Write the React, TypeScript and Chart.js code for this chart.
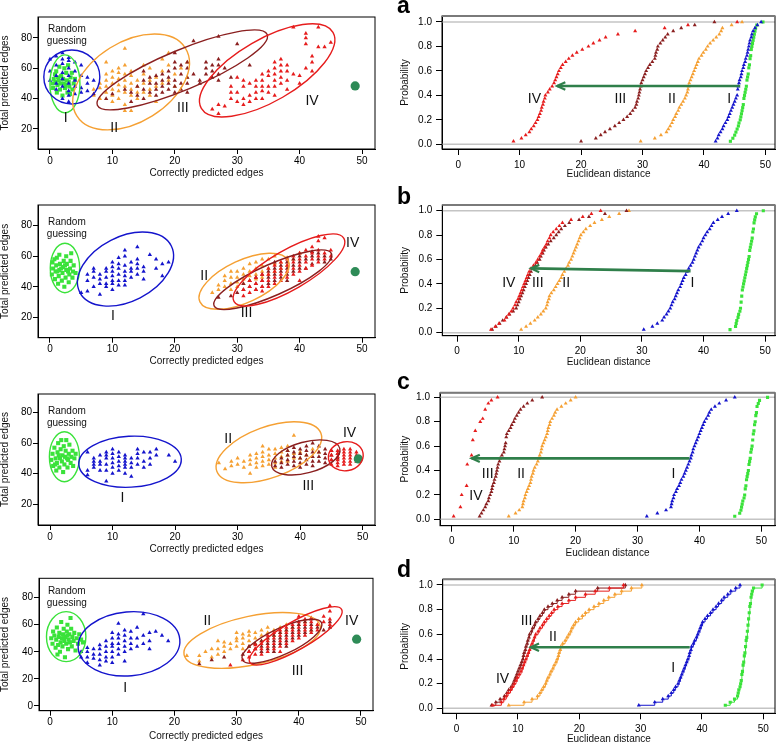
import React, { useEffect, useRef } from 'react';
import { Chart, registerables } from 'chart.js';
Chart.register(...registerables);

const FONT = '"Liberation Sans", Arial, Helvetica, sans-serif';
const W = 779;
const H = 744;

// ---------- tick values ----------
const EDGE_X_TICKS = [0, 10, 20, 30, 40, 50];
const EDGE_Y_TICKS = [20, 40, 60, 80];
const EDGE_Y_TICKS_D = [0, 20, 40, 60, 80];
const DIST_X_TICKS = [0, 10, 20, 30, 40, 50];
const PROB_TICKS = [0, 0.2, 0.4, 0.6, 0.8, 1.0];
const GROUP_NAMES = ['I', 'II', 'III', 'IV'];
const PANEL_LETTERS = ['a', 'b', 'c', 'd'];

// ---------- scatter data: [correctly predicted edges, total predicted edges] ----------
const A_RANDOM = [[0.4,50],[0.6,53],[0.5,47],[0.8,56],[1.1,44],[1.2,49],[1.4,52],[1.0,58],[1.6,46],[1.8,55],[1.5,61],[2.0,42],[2.2,50],[2.1,53],[2.4,47],[2.6,57],[2.3,60],[2.8,44],[3.0,51],[3.1,48],[3.3,54],[2.9,62],[3.6,46],[3.8,50],[3.5,57],[4.0,53],[1.7,50],[2.7,52],[0.9,51],[3.2,43],[1.3,54],[2.5,49]];
const A_I = [[0,52],[0,58],[0,66],[1,46],[1,50],[1,55],[1,62],[1,68],[2,40],[2,48],[2,53],[2,57],[2,63],[2,66],[2,70],[3,38],[3,42],[3,45],[3,50],[3,55],[3,60],[3,65],[3,67],[4,43],[4,48],[4,52],[4,58],[4,64],[5,44],[5,47],[5,55],[5,62],[6,45],[6,50],[6,54],[7,52]];
const A_II = [[7,42],[7,46],[8,40],[8,47],[8,50],[9,44],[9,48],[9,52],[9,56],[9,64],[10,38],[10,42],[10,46],[10,50],[10,54],[10,58],[11,40],[11,45],[11,49],[11,53],[11,57],[11,60],[12,32],[12,36],[12,44],[12,48],[12,52],[12,56],[12,62],[12,73],[13,32],[13,42],[13,46],[13,50],[13,55],[13,58],[14,40],[14,44],[14,48],[14,52],[15,44],[15,50],[15,56],[15,62],[16,42],[16,46],[16,52],[16,60],[17,38],[17,48],[17,54],[18,50],[18,58],[18,66],[19,52],[19,62],[19,70],[20,48],[20,56],[21,60],[22,54],[22,64]];
const A_III = [[7,43],[9,40],[10,43],[12,46],[13,38],[13,44],[14,42],[14,48],[15,40],[15,46],[15,52],[15,58],[16,44],[16,50],[16,54],[17,42],[17,46],[17,50],[17,55],[18,44],[18,48],[18,52],[18,56],[19,46],[19,50],[19,54],[19,58],[20,44],[20,48],[20,52],[20,60],[20,64],[20,70],[21,46],[21,50],[21,56],[21,62],[22,44],[22,50],[22,54],[22,60],[22,64],[23,56],[23,78],[24,50],[24,52],[25,56],[25,60],[25,64],[26,54],[26,58],[26,62],[27,52],[27,56],[27,62],[27,66],[27,81],[28,60],[29,54],[30,76],[32,62]];
const A_IV = [[26,33],[27,30],[27,36],[28,35],[29,40],[29,44],[29,48],[30,38],[30,44],[30,54],[31,36],[31,40],[31,48],[31,52],[32,38],[32,42],[32,50],[33,40],[33,44],[33,48],[33,52],[34,40],[34,45],[34,48],[34,52],[34,56],[35,44],[35,48],[35,55],[35,58],[36,42],[36,48],[36,52],[36,56],[36,60],[36,64],[37,50],[37,54],[37,58],[37,62],[37,66],[38,46],[38,52],[38,58],[38,62],[39,56],[39,87],[40,50],[40,55],[41,60],[41,76],[41,80],[41,83],[42,58],[42,64],[42,68],[43,74],[43,87],[44,74],[45,77]];
const A_TRUE = [[48.9, 48.4]];

const B_RANDOM = [[0.3,48],[0.5,52],[0.4,56],[0.8,45],[0.9,50],[1.0,54],[1.1,59],[1.3,42],[1.4,47],[1.5,51],[1.6,55],[1.5,61],[1.9,44],[2.0,49],[2.1,53],[2.2,57],[2.3,40],[2.5,46],[2.6,51],[2.7,55],[2.6,60],[3.0,43],[3.1,48],[3.2,52],[3.3,57],[3.6,46],[3.7,50],[3.8,54],[4.1,49],[1.8,52],[2.4,54],[1.2,50],[2.9,50],[0.7,58],[3.4,62]];
const B_I = [[5,36],[6,37],[6,44],[6,48],[7,40],[7,46],[7,50],[7,52],[8,35],[8,42],[8,45],[8,48],[9,40],[9,42],[9,46],[9,50],[9,52],[10,38],[10,42],[10,44],[10,47],[10,50],[10,53],[10,56],[11,41],[11,44],[11,48],[11,52],[11,55],[11,59],[12,41],[12,44],[12,47],[12,50],[12,54],[12,60],[12,64],[13,46],[13,50],[13,52],[13,56],[14,48],[14,52],[14,55],[14,58],[14,66],[15,45],[15,50],[15,53],[16,61],[17,52],[17,58],[18,47],[18,55],[19,56]];
const B_II = [[26,36],[27,38],[27,41],[28,40],[28,44],[28,47],[29,38],[29,42],[29,46],[29,50],[30,40],[30,43],[30,46],[30,50],[31,42],[31,45],[31,48],[31,52],[32,44],[32,47],[32,50],[32,55],[33,45],[33,48],[33,52],[33,56],[34,46],[34,50],[34,54],[34,58],[35,48],[35,52],[35,58],[36,50],[36,55],[36,60],[37,52],[37,56],[38,54],[38,59],[39,58],[40,62]];
const B_III = [[27,33],[29,34],[30,36],[31,38],[31,42],[32,40],[32,44],[33,38],[33,42],[33,46],[34,40],[34,44],[34,48],[35,42],[35,46],[35,50],[36,44],[36,48],[36,52],[36,56],[37,46],[37,50],[37,54],[38,44],[38,48],[38,52],[38,56],[39,50],[39,54],[39,58],[40,52],[40,56],[40,60],[41,52],[41,58],[42,55],[42,60],[42,63],[43,58],[43,62],[44,56],[44,60],[45,58]];
const B_IV = [[31,34],[31,38],[32,36],[32,40],[32,44],[33,38],[33,42],[33,46],[34,37],[34,40],[34,44],[34,48],[35,40],[35,44],[35,48],[35,52],[36,42],[36,46],[36,50],[36,54],[37,44],[37,48],[37,52],[37,56],[38,46],[38,50],[38,54],[38,58],[39,48],[39,52],[39,56],[39,60],[40,44],[40,50],[40,54],[40,58],[40,62],[41,52],[41,56],[41,60],[41,64],[42,54],[42,58],[42,62],[42,66],[43,56],[43,60],[43,64],[43,70],[43,73],[44,58],[44,62],[44,72],[45,60],[45,64]];
const B_TRUE = [[48.9, 49.9]];

const C_RANDOM = [[0.2,49],[0.4,53],[0.5,45],[0.7,57],[0.9,50],[1.0,42],[1.1,47],[1.2,54],[1.3,60],[1.5,44],[1.6,50],[1.7,56],[1.9,48],[2.0,52],[2.1,41],[2.2,58],[2.3,46],[2.4,51],[2.5,55],[2.6,62],[2.8,44],[2.9,49],[3.0,53],[3.1,59],[3.3,47],[3.4,51],[3.6,55],[3.7,45],[3.9,50],[4.1,53],[1.4,52],[2.7,50],[0.8,46],[1.8,62]];
const C_I = [[6,39],[6,42],[6,54],[7,44],[7,46],[7,48],[7,50],[8,42],[8,46],[8,48],[8,52],[9,35],[9,42],[9,46],[9,50],[9,52],[9,54],[10,40],[10,44],[10,47],[10,50],[10,53],[10,56],[11,42],[11,45],[11,48],[11,51],[11,54],[12,40],[12,44],[12,46],[12,48],[12,50],[12,52],[13,38],[13,44],[13,47],[13,50],[14,46],[14,50],[14,53],[14,56],[15,44],[15,48],[15,54],[16,46],[16,50],[16,54],[17,52],[17,56],[19,52],[20,48]];
const C_II = [[27,47],[28,43],[29,45],[29,48],[30,46],[30,50],[31,44],[31,48],[32,40],[32,46],[32,49],[32,52],[33,44],[33,47],[33,50],[33,53],[34,45],[34,48],[34,51],[34,54],[34,58],[35,46],[35,49],[35,52],[35,56],[36,44],[36,47],[36,50],[36,53],[36,56],[37,48],[37,51],[37,54],[37,57],[38,48],[38,52],[38,55],[38,58],[39,50],[39,53],[39,65],[40,50],[40,54],[41,52],[42,56],[43,54]];
const C_III = [[36,45],[36,48],[37,44],[37,47],[37,50],[38,46],[38,49],[38,52],[38,55],[39,45],[39,48],[39,51],[39,54],[39,57],[40,44],[40,47],[40,50],[40,53],[40,56],[41,46],[41,49],[41,52],[41,55],[41,58],[42,45],[42,48],[42,51],[42,54],[42,60],[43,48],[43,51],[43,54],[43,58],[44,47],[44,50],[44,53],[44,56],[45,49],[45,52],[45,55],[46,50],[46,53]];
const C_IV = [[45,46],[45,49],[45,52],[45,55],[46,45],[46,47],[46,49],[46,51],[46,53],[46,55],[47,46],[47,48],[47,50],[47,52],[47,54],[47,56],[48,46],[48,48],[48,50],[48,52],[48,54],[48,56],[49,48],[49,50],[49,52],[49,54]];
const C_TRUE = [[49.3, 49.6]];

const D_RANDOM = [[0.2,50],[0.4,46],[0.5,55],[0.7,52],[0.9,43],[1.0,49],[1.1,58],[1.3,45],[1.4,51],[1.5,54],[1.6,40],[1.7,47],[1.8,62],[1.9,50],[2.0,44],[2.1,53],[2.2,57],[2.3,48],[2.4,36],[2.5,51],[2.6,46],[2.7,55],[2.8,60],[2.9,42],[3.0,49],[3.1,53],[3.2,47],[3.4,57],[3.5,44],[3.6,51],[3.8,48],[3.9,54],[4.1,41],[4.3,50],[4.5,46],[4.7,53],[5.0,49],[5.3,47],[3.3,65],[1.2,38],[2.2,50],[2.8,52]];
const D_I = [[5,36],[5,40],[6,32],[6,36],[6,40],[6,43],[7,35],[7,38],[7,42],[8,30],[8,34],[8,38],[8,42],[8,45],[9,33],[9,36],[9,40],[9,44],[9,48],[10,32],[10,36],[10,40],[10,44],[10,46],[10,50],[10,54],[11,38],[11,42],[11,46],[11,50],[11,53],[11,61],[12,33],[12,40],[12,44],[12,48],[12,52],[12,56],[13,42],[13,46],[13,50],[13,55],[14,44],[14,50],[14,58],[15,46],[15,52],[15,68],[16,42],[16,48],[16,54],[17,55],[18,52],[19,48]];
const D_II = [[22,37],[24,33],[24,37],[25,40],[26,36],[26,42],[27,38],[27,42],[27,48],[28,40],[28,44],[28,47],[29,42],[29,46],[30,44],[30,48],[30,50],[30,54],[31,42],[31,46],[31,50],[31,53],[32,44],[32,48],[32,52],[32,55],[33,46],[33,50],[33,54],[34,48],[34,52],[34,56],[35,50],[35,54],[35,58],[36,52],[36,56],[37,54],[37,58],[38,56],[38,60],[39,58],[40,60],[41,62],[42,56],[43,60]];
const D_III = [[24,31],[26,34],[28,36],[31,38],[32,40],[32,44],[33,42],[33,46],[34,40],[34,44],[34,48],[35,42],[35,46],[35,50],[36,40],[36,44],[36,48],[36,52],[37,46],[37,50],[37,54],[38,44],[38,48],[38,52],[38,56],[39,50],[39,54],[39,58],[40,52],[40,56],[40,60],[41,54],[41,58],[41,62],[42,56],[42,60],[42,64],[43,58],[44,56],[45,58],[45,62]];
const D_IV = [[29,30],[31,34],[32,36],[32,40],[33,38],[33,42],[33,45],[34,38],[34,42],[34,46],[35,40],[35,44],[35,48],[35,52],[36,42],[36,46],[36,50],[36,54],[37,40],[37,44],[37,48],[37,52],[37,56],[38,46],[38,50],[38,54],[38,58],[39,48],[39,52],[39,56],[39,60],[40,50],[40,54],[40,58],[40,62],[40,66],[41,52],[41,56],[41,60],[41,64],[42,54],[42,58],[42,62],[42,65],[43,56],[43,60],[44,62],[44,66],[45,60],[45,64],[45,70],[45,74]];
const D_TRUE = [[49.3, 49.3]];

// ---------- Euclidean distances (ECDF panels) ----------
const A_DIST_RANDOM = [44.3,44.7,45.0,45.2,45.4,45.6,45.7,45.9,46.0,46.1,46.2,46.3,46.4,46.5,46.5,46.6,46.7,46.8,46.9,47.0,47.0,47.1,47.2,47.3,47.3,47.4,47.5,47.5,47.6,47.7,47.7,47.8,47.9,48.0,48.1,48.2,48.3,48.4,48.6,49.6];
const A_DIST_I = [41.9,42.2,42.4,42.7,43.0,43.2,43.5,43.8,44.0,44.2,44.4,44.6,44.8,45.0,45.2,45.4,45.5,45.5,45.6,45.7,45.8,46.0,46.1,46.2,46.4,46.5,46.7,46.8,47.0,47.1,47.2,47.3,47.4,47.5,47.7,47.8,48.0,48.3,48.7,49.3];
const A_DIST_II = [29.7,32.0,33.0,33.9,34.2,34.5,34.8,35.0,35.3,35.5,35.8,36.0,36.3,36.6,36.9,37.1,37.3,37.4,37.5,37.6,37.8,38.0,38.2,38.4,38.6,38.8,39.0,39.2,39.6,39.9,40.3,40.6,41.0,41.5,42.0,42.5,42.8,43.0,44.5,46.2];
const A_DIST_III = [20.0,22.4,23.2,23.9,24.7,25.5,26.2,26.9,27.5,28.0,28.4,28.8,29.0,29.1,29.3,29.4,29.5,29.6,29.7,29.8,30.0,30.2,30.4,30.6,30.9,31.2,31.6,32.0,32.1,32.2,32.4,32.5,32.9,33.3,33.7,34.1,35.0,36.3,38.5,41.7];
const A_DIST_IV = [9.0,10.3,11.0,11.6,11.9,12.3,12.6,12.9,13.1,13.3,13.5,13.6,13.8,13.9,14.1,14.2,14.6,14.9,15.3,15.6,15.8,16.0,16.2,16.4,16.7,17.0,17.5,18.0,18.6,19.3,20.2,21.2,22.0,23.0,24.0,26.0,28.8,33.6,37.4,45.4];

const B_DIST_RANDOM = [44.3,45.2,45.3,45.4,45.6,45.7,45.9,46.0,46.1,46.1,46.2,46.2,46.3,46.3,46.4,46.5,46.6,46.7,46.8,46.9,47.0,47.1,47.2,47.3,47.4,47.5,47.5,47.6,47.7,47.8,47.9,48.0,48.0,48.1,48.2,48.2,48.3,48.4,48.6,49.7];
const B_DIST_I = [30.3,31.7,32.5,33.3,33.6,34.0,34.3,34.6,34.8,35.0,35.3,35.5,35.7,35.9,36.2,36.4,36.6,36.8,37.1,37.3,37.6,37.9,38.2,38.4,38.6,38.8,39.0,39.2,39.5,39.8,40.0,40.3,40.6,41.0,41.3,41.6,42.3,43.0,44.0,45.4];
const B_DIST_II = [10.4,11.2,11.9,12.6,13.1,13.6,14.0,14.4,14.6,14.7,14.9,15.0,15.3,15.7,16.0,16.3,16.6,16.9,17.1,17.4,17.7,18.0,18.2,18.5,18.7,18.9,19.1,19.3,19.5,19.7,19.9,20.1,20.5,20.9,21.6,22.3,23.5,24.7,26.3,27.9];
const B_DIST_III = [5.7,6.3,6.9,7.4,8.0,8.5,9.1,9.6,9.8,10.0,10.2,10.4,10.6,10.8,11.0,11.2,11.4,11.6,11.8,12.0,12.3,12.7,13.0,13.4,13.6,13.9,14.1,14.4,14.8,15.2,15.7,16.1,16.5,16.9,17.5,18.2,19.8,21.4,24.0,27.5];
const B_DIST_IV = [5.5,6.2,6.8,7.7,8.0,8.4,8.8,9.1,9.4,9.6,9.9,10.1,10.3,10.5,10.7,10.9,11.1,11.3,11.5,11.7,12.0,12.4,12.8,13.1,13.4,13.7,13.9,14.2,14.5,14.7,15.0,15.2,15.6,16.1,16.6,17.1,18.5,20.4,21.8,23.3];

const C_DIST_RANDOM = [45.7,46.5,46.7,46.8,46.9,47.0,47.2,47.3,47.4,47.4,47.5,47.6,47.6,47.7,47.8,47.9,48.0,48.0,48.1,48.2,48.3,48.3,48.4,48.5,48.6,48.6,48.7,48.7,48.8,48.9,48.9,49.0,49.1,49.1,49.2,49.3,49.3,49.5,49.7,51.0];
const C_DIST_I = [31.5,33.2,34.6,35.4,35.5,35.6,35.8,35.9,36.2,36.4,36.7,36.9,37.1,37.4,37.6,37.8,38.0,38.2,38.4,38.6,38.7,38.9,39.0,39.2,39.4,39.6,39.8,40.0,40.2,40.4,40.6,40.8,41.1,41.4,41.6,41.9,42.5,43.2,44.3,45.7];
const C_DIST_II = [9.2,10.3,10.9,11.4,11.5,11.6,11.8,11.9,12.1,12.3,12.5,12.7,12.8,12.9,13.1,13.2,13.4,13.7,13.9,14.1,14.2,14.4,14.5,14.6,14.8,15.0,15.2,15.4,15.5,15.6,15.8,15.9,16.2,16.5,16.7,17.0,17.7,18.4,19.2,20.0];
const C_DIST_III = [4.5,4.8,5.1,5.4,5.6,5.9,6.0,6.2,6.4,6.5,6.6,6.8,6.9,7.1,7.2,7.3,7.4,7.5,7.7,7.8,8.1,8.4,8.5,8.6,8.7,8.8,8.8,8.9,9.2,9.5,9.7,10.0,10.2,10.5,10.8,11.1,11.6,12.2,13.0,14.6];
const C_DIST_IV = [0.3,1.4,1.4,1.4,1.6,1.6,1.6,1.6,2.4,2.4,2.4,2.5,2.5,2.5,2.5,2.5,2.5,2.5,3.2,3.2,3.2,3.4,3.4,3.4,3.4,3.4,3.8,3.8,3.8,4.6,4.6,4.6,5.0,5.4,5.4,5.4,5.9,5.9,6.4,7.4];

const D_DIST_RANDOM = [43.8,44.6,45.3,45.8,45.9,46.0,46.2,46.3,46.4,46.5,46.5,46.6,46.7,46.7,46.8,46.9,46.9,47.0,47.1,47.1,47.2,47.2,47.3,47.4,47.4,47.5,47.5,47.6,47.6,47.7,47.7,47.8,47.8,47.9,48.0,48.0,48.1,48.2,48.4,49.8];
const D_DIST_I = [29.7,32.3,33.6,34.5,35.0,35.4,35.7,36.1,36.3,36.5,36.7,36.9,37.1,37.3,37.5,37.7,37.9,38.0,38.2,38.3,38.6,38.8,39.1,39.3,39.5,39.7,39.9,40.1,40.5,40.9,41.4,41.8,42.3,42.7,43.2,43.6,44.2,44.7,45.5,46.2];
const D_DIST_II = [8.5,11.0,12.3,13.2,13.6,13.9,14.2,14.5,14.7,14.9,15.2,15.4,15.7,15.9,16.2,16.4,16.6,16.7,16.9,17.0,17.3,17.7,18.0,18.3,18.6,18.8,19.1,19.4,19.9,20.5,21.0,21.6,22.4,23.2,24.0,24.8,25.8,26.9,28.5,30.2];
const D_DIST_III = [5.7,6.4,7.1,7.8,8.2,8.5,8.9,9.2,9.4,9.6,9.8,10.0,10.2,10.4,10.6,10.8,10.9,11.0,11.2,11.3,11.5,11.6,11.8,11.9,12.2,12.4,12.7,12.9,13.3,13.6,14.0,14.3,14.9,15.6,16.4,17.2,18.3,19.4,23.0,27.5];
const D_DIST_IV = [5.9,7.3,7.7,8.1,8.4,8.8,9.1,9.4,9.7,9.9,10.2,10.5,10.7,10.9,11.1,11.3,11.5,11.7,11.9,12.1,12.3,12.5,12.7,12.9,13.3,13.6,14.0,14.3,14.7,15.1,15.5,15.9,16.5,17.2,18.3,19.4,21.0,22.6,24.9,27.2];

// ---------- colours ----------
const COL = {
  random: '#3ae23a',
  I: '#1414cc',
  II: '#f5a033',
  III: '#8a1f1f',
  IV: '#e61c1c',
  truth: '#2e8b57',
  arrow: '#2f7f4a',
  ink: '#000000',
};

function ecdf(values: number[]) {
  const s = [...values].sort((a, b) => a - b);
  const n = s.length;
  const pts: { x: number; y: number }[] = [];
  for (let i = 0; i < n; i++) {
    if (i < n - 1 && s[i + 1] === s[i]) continue;
    pts.push({ x: s[i], y: (i + 1) / n });
  }
  return pts;
}

const toXY = (arr: number[][]) => arr.map(([x, y]) => ({ x, y }));

function scatterSet(arr: number[][], color: string, style: string, r: number) {
  return {
    data: toXY(arr),
    showLine: false,
    pointStyle: style,
    pointRadius: r,
    pointBackgroundColor: color,
    pointBorderColor: color,
    pointBorderWidth: 0,
  };
}

function ecdfSet(vals: number[], color: string, style: string, r: number, line: boolean) {
  return {
    data: ecdf(vals),
    showLine: line,
    stepped: true,
    borderColor: color,
    borderWidth: 1,
    pointStyle: style,
    pointRadius: r,
    pointBackgroundColor: color,
    pointBorderColor: color,
    pointBorderWidth: 0,
  };
}

type Panel = any;

const SCATTER_GROUPS = [
  [A_RANDOM, A_I, A_II, A_III, A_IV, A_TRUE],
  [B_RANDOM, B_I, B_II, B_III, B_IV, B_TRUE],
  [C_RANDOM, C_I, C_II, C_III, C_IV, C_TRUE],
  [D_RANDOM, D_I, D_II, D_III, D_IV, D_TRUE],
];
const ECDF_GROUPS = [
  [A_DIST_RANDOM, A_DIST_I, A_DIST_II, A_DIST_III, A_DIST_IV],
  [B_DIST_RANDOM, B_DIST_I, B_DIST_II, B_DIST_III, B_DIST_IV],
  [C_DIST_RANDOM, C_DIST_I, C_DIST_II, C_DIST_III, C_DIST_IV],
  [D_DIST_RANDOM, D_DIST_I, D_DIST_II, D_DIST_III, D_DIST_IV],
];

const LEFT_LAYOUT = [
  { rect: { l: 38, r: 375, t: 17, b: 149 }, x: [-1.92, 52.08], y: [6.8, 93.8], yTicks: EDGE_Y_TICKS, xTitleY: 173,
    random: [2.7, 85.9],
    ellipses: [
      { c: 'random', cx: 2.4, cy: 49.7, a: 15, b: 29, rot: 0 },
      { c: 'I', cx: 3.5, cy: 54.3, a: 28, b: 27, rot: 0 },
      { c: 'II', cx: 13.0, cy: 51, a: 64, b: 40, rot: -32 },
      { c: 'III', cx: 21.2, cy: 58.9, a: 92, b: 20, rot: -22.6 },
      { c: 'IV', cx: 34.8, cy: 58.6, a: 76, b: 31, rot: -30 },
    ],
    labels: [[2.5, 27.3], [10.3, 20.7], [21.3, 33.8], [42, 38.5]] },
  { rect: { l: 38, r: 375, t: 205, b: 337.7 }, x: [-1.92, 52.08], y: [6.6, 93.6], yTicks: EDGE_Y_TICKS, xTitleY: 361.7,
    random: [2.7, 82],
    ellipses: [
      { c: 'random', cx: 2.4, cy: 52.3, a: 14.7, b: 24.7, rot: 0 },
      { c: 'I', cx: 12.1, cy: 51.6, a: 51.3, b: 32.3, rot: -27 },
      { c: 'II', cx: 31.1, cy: 43.6, a: 48.7, b: 21, rot: -25 },
      { c: 'III', cx: 35.7, cy: 44.6, a: 64.2, b: 15.6, rot: -24 },
      { c: 'IV', cx: 38.3, cy: 51, a: 63.4, b: 19.7, rot: -30 },
    ],
    labels: [[10.1, 20.9], [24.7, 47], [31.5, 22.6], [48.5, 68.9]] },
  { rect: { l: 38, r: 375, t: 394, b: 525 }, x: [-1.92, 51.97], y: [6.2, 92.3], yTicks: EDGE_Y_TICKS, xTitleY: 549.3,
    random: [2.7, 80.7],
    ellipses: [
      { c: 'random', cx: 2.3, cy: 51.1, a: 15, b: 25, rot: 0 },
      { c: 'I', cx: 12.8, cy: 47.8, a: 51.3, b: 25.5, rot: -3 },
      { c: 'II', cx: 35.0, cy: 54, a: 55.4, b: 25.4, rot: -20 },
      { c: 'III', cx: 40.9, cy: 50.6, a: 35.2, b: 15.5, rot: -15 },
      { c: 'IV', cx: 47.3, cy: 51.4, a: 17.5, b: 14.5, rot: -10 },
    ],
    labels: [[11.6, 23.7], [28.5, 62.5], [41.3, 31.8], [47.9, 66.9]] },
  { rect: { l: 39, r: 373, t: 578.3, b: 710.7 }, x: [-1.77, 51.93], y: [-3.5, 94.3], yTicks: EDGE_Y_TICKS_D, xTitleY: 736.7,
    random: [2.7, 84.4],
    ellipses: [
      { c: 'random', cx: 2.6, cy: 51.2, a: 19.7, b: 25, rot: 0 },
      { c: 'I', cx: 12.7, cy: 45.9, a: 51, b: 32, rot: -5 },
      { c: 'II', cx: 32.5, cy: 48.4, a: 69.6, b: 24.3, rot: -12 },
      { c: 'III', cx: 37.3, cy: 47.8, a: 43.7, b: 13.2, rot: -25 },
      { c: 'IV', cx: 39.5, cy: 51.8, a: 53, b: 14, rot: -30 },
    ],
    labels: [[12.1, 13.1], [25.3, 63], [39.8, 25.8], [48.5, 63]] },
];

const RIGHT_LAYOUT = [
  { rect: { l: 442, r: 778, t: 16, b: 149 }, x: [-2.63, 51.56], y: [-0.038, 1.049], xTitleY: 174, letterY: 13.3,
    arrow: [[45.9, 0.477], [16.1, 0.477]], steps: false,
    labels: [[44.1, 0.37], [34.8, 0.37], [26.4, 0.37], [12.4, 0.37]] },
  { rect: { l: 442.3, r: 776.7, t: 205, b: 335.7 }, x: [-2.4, 51.6], y: [-0.025, 1.047], xTitleY: 362.3, letterY: 204,
    arrow: [[37.9, 0.505], [12.0, 0.527]], steps: false,
    labels: [[38.2, 0.41], [17.7, 0.41], [13.1, 0.41], [8.4, 0.41]] },
  { rect: { l: 440, r: 776.7, t: 392.7, b: 525.7 }, x: [-1.9, 52.2], y: [-0.052, 1.038], xTitleY: 553.3, letterY: 388.5,
    arrow: [[38.4, 0.5], [3.2, 0.5]], steps: false,
    labels: [[35.8, 0.37], [11.2, 0.37], [5.8, 0.37], [3.9, 0.19]] },
  { rect: { l: 442.7, r: 777.7, t: 579.3, b: 713.3 }, x: [-2.26, 51.9], y: [-0.04, 1.046], xTitleY: 739, letterY: 576.5,
    arrow: [[38.0, 0.495], [12.1, 0.495]], steps: true,
    labels: [[35.3, 0.33], [15.7, 0.58], [11.4, 0.71], [7.5, 0.24]] },
];

function decorPlugin(p: Panel) {
  return {
    id: 'decor',
    beforeDatasetsDraw(chart: any) {
      if (p.kind !== 'ecdf') return;
      const ctx = chart.ctx, ca = chart.chartArea, ys = chart.scales.y;
      ctx.save();
      ctx.strokeStyle = '#c4c4c4';
      ctx.lineWidth = 1.5;
      [0, 1].forEach((v) => {
        const y = ys.getPixelForValue(v);
        ctx.beginPath();
        ctx.moveTo(ca.left, y);
        ctx.lineTo(ca.right, y);
        ctx.stroke();
      });
      ctx.restore();
    },
    afterDatasetsDraw(chart: any) {
      const ctx = chart.ctx, ca = chart.chartArea;
      const xs = chart.scales.x, ys = chart.scales.y;
      ctx.save();
      ctx.beginPath();
      ctx.rect(ca.left, ca.top, ca.width, ca.height);
      ctx.clip();
      (p.ellipses || []).forEach((e: any) => {
        ctx.beginPath();
        ctx.ellipse(xs.getPixelForValue(e.cx), ys.getPixelForValue(e.cy), e.a, e.b, (e.rot * Math.PI) / 180, 0, Math.PI * 2);
        ctx.strokeStyle = (COL as any)[e.c];
        ctx.lineWidth = 1.4;
        ctx.stroke();
      });
      if (p.arrow) {
        const [[x1, y1], [x2, y2]] = p.arrow;
        const px1 = xs.getPixelForValue(x1), py1 = ys.getPixelForValue(y1);
        const px2 = xs.getPixelForValue(x2), py2 = ys.getPixelForValue(y2);
        ctx.strokeStyle = COL.arrow;
        ctx.lineWidth = 2.6;
        ctx.lineCap = 'butt';
        ctx.beginPath();
        ctx.moveTo(px1, py1);
        ctx.lineTo(px2, py2);
        ctx.stroke();
        const ang = Math.atan2(py1 - py2, px1 - px2);
        const hl = 9;
        ctx.lineWidth = 2.2;
        ctx.beginPath();
        ctx.moveTo(px2 + hl * Math.cos(ang + 0.42), py2 + hl * Math.sin(ang + 0.42));
        ctx.lineTo(px2, py2);
        ctx.lineTo(px2 + hl * Math.cos(ang - 0.42), py2 + hl * Math.sin(ang - 0.42));
        ctx.stroke();
      }
      ctx.restore();
    },
    afterDraw(chart: any) {
      const ctx = chart.ctx, ca = chart.chartArea;
      const xs = chart.scales.x, ys = chart.scales.y;
      ctx.save();
      ctx.strokeStyle = COL.ink;
      ctx.lineWidth = 1;
      ctx.strokeRect(ca.left, ca.top, ca.width, ca.height);
      if (p.kind === 'ecdf') {
        ctx.strokeStyle = '#7a7a7a';
        ctx.lineWidth = 2;
        ctx.beginPath();
        ctx.moveTo(ca.left, ca.top);
        ctx.lineTo(ca.right, ca.top);
        ctx.stroke();
      }
      ctx.fillStyle = '#111';
      ctx.textAlign = 'center';
      ctx.textBaseline = 'middle';
      ctx.font = `14px ${FONT}`;
      p.labels.forEach(([x, y]: number[], i: number) => {
        ctx.fillText(GROUP_NAMES[i], xs.getPixelForValue(x), ys.getPixelForValue(y));
      });
      if (p.random) {
        ctx.font = `10px ${FONT}`;
        const rx = xs.getPixelForValue(p.random[0]);
        const ry = ys.getPixelForValue(p.random[1]);
        ctx.fillText('Random', rx, ry);
        ctx.fillText('guessing', rx, ry + 12);
      }
      ctx.font = `10px ${FONT}`;
      ctx.fillText(p.xTitle, (ca.left + ca.right) / 2, p.xTitleY);
      ctx.save();
      ctx.translate(p.yTitleX, (ca.top + ca.bottom) / 2);
      ctx.rotate(-Math.PI / 2);
      ctx.fillText(p.yTitle, 0, 0);
      ctx.restore();
      if (p.letter) {
        ctx.font = `bold 23px ${FONT}`;
        ctx.textAlign = 'left';
        ctx.textBaseline = 'alphabetic';
        ctx.fillStyle = '#000';
        ctx.fillText(p.letter, 397, p.letterY);
      }
      ctx.restore();
    },
  };
}

function buildConfig(p: Panel) {
  const YW = 30;
  const XH = 22;
  const tickFont = { family: FONT, size: 10 };
  const axisCommon = (tickLen: number, pad: number, ticks: number[], fmt: (v: number) => string, fit: (s: any) => void, min: number, max: number) => ({
    type: 'linear',
    min,
    max,
    afterFit: fit,
    afterBuildTicks: (s: any) => {
      s.ticks = ticks.map((v) => ({ value: v }));
    },
    ticks: {
      autoSkip: false,
      maxRotation: 0,
      minRotation: 0,
      padding: pad,
      color: '#000',
      font: tickFont,
      callback: (v: any) => fmt(Number(v)),
    },
    grid: { display: true, drawOnChartArea: false, drawTicks: true, tickLength: tickLen, tickColor: COL.ink, tickWidth: 1 },
    border: { display: true, color: COL.ink, width: 1 },
  });
  return {
    type: 'scatter',
    data: { datasets: p.datasets },
    options: {
      animation: false,
      responsive: false,
      maintainAspectRatio: false,
      events: [],
      layout: {
        padding: { left: p.rect.l - YW, right: W - p.rect.r, top: p.rect.t, bottom: H - p.rect.b - XH },
      },
      plugins: { legend: { display: false }, tooltip: { enabled: false } },
      scales: {
        x: { ...axisCommon(p.tickLen, p.xPad, p.xTicks, p.xFmt, (s: any) => { s.height = XH; }, p.x[0], p.x[1]), position: 'bottom' },
        y: { ...axisCommon(p.tickLen, p.yPad, p.yTicks, p.yFmt, (s: any) => { s.width = YW; }, p.y[0], p.y[1]), position: 'left' },
      },
    },
    plugins: [decorPlugin(p)],
  };
}

function makePanels(): Panel[] {
  const panels: Panel[] = [];
  LEFT_LAYOUT.forEach((L, i) => {
    const g = SCATTER_GROUPS[i];
    const datasets = [
      scatterSet(g[5], COL.truth, 'circle', 4.6),
      scatterSet(g[4], COL.IV, 'triangle', 2.5),
      scatterSet(g[3], COL.III, 'triangle', 2.5),
      scatterSet(g[2], COL.II, 'triangle', 2.5),
      scatterSet(g[1], COL.I, 'triangle', 2.5),
      scatterSet(g[0], COL.random, 'rect', 2.9),
    ];
    panels.push({
      kind: 'scatter',
      ...L,
      datasets,
      xTicks: EDGE_X_TICKS,
      xFmt: (v: number) => String(v),
      yFmt: (v: number) => String(v),
      tickLen: 5,
      xPad: 1,
      yPad: 1,
      xTitle: 'Correctly predicted edges',
      yTitle: 'Total predicted edges',
      yTitleX: 5,
    });
  });
  RIGHT_LAYOUT.forEach((R, i) => {
    const g = ECDF_GROUPS[i];
    const datasets = [
      ecdfSet(g[4], COL.IV, 'triangle', 2.3, R.steps),
      ecdfSet(g[3], COL.III, 'triangle', 2.3, R.steps),
      ecdfSet(g[2], COL.II, 'triangle', 2.3, R.steps),
      ecdfSet(g[1], COL.I, 'triangle', 2.3, R.steps),
      ecdfSet(g[0], COL.random, 'rect', 2.2, R.steps),
    ];
    panels.push({
      kind: 'ecdf',
      ...R,
      datasets,
      xTicks: DIST_X_TICKS,
      yTicks: PROB_TICKS,
      xFmt: (v: number) => String(v),
      yFmt: (v: number) => v.toFixed(1),
      tickLen: 6,
      xPad: 4,
      yPad: 4,
      xTitle: 'Euclidean distance',
      yTitle: 'Probability',
      yTitleX: 405,
      letter: PANEL_LETTERS[i],
    });
  });
  return panels;
}

function ChartLayer({ panel }: { panel: Panel }) {
  const ref = useRef<HTMLCanvasElement>(null);
  useEffect(() => {
    if (!ref.current) return;
    const chart = new Chart(ref.current, buildConfig(panel) as any);
    return () => chart.destroy();
  }, [panel]);
  return (
    <canvas
      ref={ref}
      width={W}
      height={H}
      style={{ position: 'absolute', left: 0, top: 0, width: W, height: H }}
    />
  );
}

const PANELS = makePanels();

export default function App() {
  return (
    <div style={{ position: 'fixed', left: 0, top: 0, width: W, height: H, background: '#fff', overflow: 'hidden' }}>
      {PANELS.map((p, i) => (
        <ChartLayer key={i} panel={p} />
      ))}
    </div>
  );
}
